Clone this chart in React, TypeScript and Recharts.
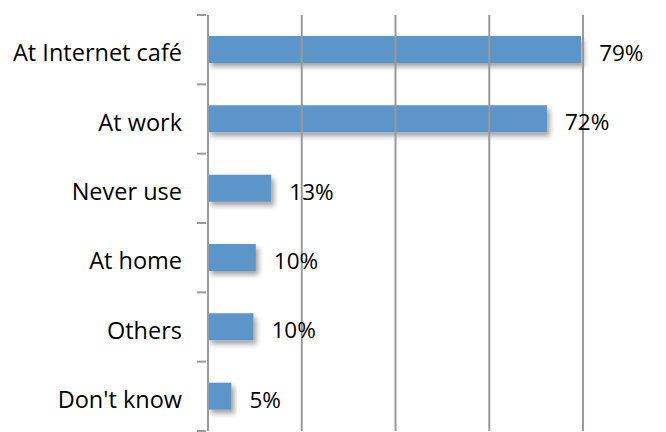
import { BarChart, Bar, XAxis, YAxis, ReferenceLine, LabelList } from 'recharts'

const categories = ['At Internet café', 'At work', 'Never use', 'At home', 'Others', "Don't know"]
const shares = [79.6, 72.3, 13.5, 10.2, 9.7, 5.0]
const shareLabels = ['79%', '72%', '13%', '10%', '10%', '5%']
const gridTicks = [20, 40, 60, 80]

const data = categories.map((name, i) => ({ name, share: shares[i], label: shareLabels[i] }))

const BAR = '#5b95c9'
const GRID = '#9a9a9a'
const FONT = '"Open Sans", sans-serif'

function CategoryTick(props: any) {
  const { x, y, payload, index } = props
  const half = payload?.offset ?? 0
  const axisX = x + 24
  return (
    <g>
      <line x1={axisX - 9} x2={axisX} y1={y - half} y2={y - half} stroke={GRID} strokeWidth={2} />
      {index === categories.length - 1 && (
        <line x1={axisX - 9} x2={axisX} y1={y + half} y2={y + half} stroke={GRID} strokeWidth={2} />
      )}
      <text x={x} y={y} dy={11.5} textAnchor="end" fill="#000" fontSize={23.5} fontFamily={FONT}>
        {payload.value}
      </text>
    </g>
  )
}

export default function App() {
  return (
    <div style={{ position: 'absolute', left: 0, top: 0, background: '#fff' }}>
      <BarChart
        width={666}
        height={432}
        data={data}
        layout="vertical"
        margin={{ top: 15, right: 0, left: 0, bottom: 1 }}
        barCategoryGap={21}
      >
        <defs>
          <filter id="barShadow" x="-10%" y="-30%" width="130%" height="180%">
            <feDropShadow dx={3} dy={4} stdDeviation={2.5} floodColor="#000" floodOpacity={0.35} />
          </filter>
        </defs>
        <XAxis
          type="number"
          domain={[0, 97.7]}
          height={0}
          tick={false}
          tickLine={false}
          axisLine={{ stroke: '#d9d9d9', strokeWidth: 2 }}
        />
        <YAxis
          type="category"
          dataKey="name"
          width={208}
          tickLine={false}
          tickSize={24}
          axisLine={{ stroke: GRID, strokeWidth: 2 }}
          tick={<CategoryTick />}
          interval={0}
        />
        {gridTicks.map((t) => (
          <ReferenceLine key={t} x={t} stroke={GRID} strokeWidth={2} />
        ))}
        <Bar dataKey="share" fill={BAR} isAnimationActive={false} style={{ filter: 'url(#barShadow)' }}>
          <LabelList
            dataKey="label"
            position="right"
            offset={18}
            fill="#000"
            fontSize={22.5}
            fontFamily={FONT}
            dy={3.5}
          />
        </Bar>
      </BarChart>
    </div>
  )
}
